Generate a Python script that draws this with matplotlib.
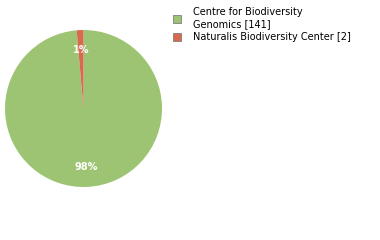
import matplotlib

matplotlib.use('Agg')
import matplotlib.pyplot as plt
from matplotlib.patches import Patch

labels = ['Centre for Biodiversity\nGenomics [141]', 'Naturalis Biodiversity Center [2]']
counts = [141, 2]
colors = ['#9dc473', '#d9694e']


def pct_label(p):
    # the reference truncates rather than rounds (141/143 -> 98%)
    return f'{int(p)}%'


fig = plt.figure(figsize=(3.8, 2.4), dpi=100)
ax = fig.add_axes([5 / 380, 1 - 187 / 240, 157 / 380, 157 / 240])

wedges, _, autotexts = ax.pie(
    counts,
    colors=colors,
    startangle=90,
    counterclock=False,
    autopct=pct_label,
    pctdistance=0.75,
    wedgeprops=dict(linewidth=0),
)
for t in autotexts:
    t.set_color('white')
    t.set_fontsize(7)
    t.set_fontweight('bold')
ax.set_xlim(-1, 1)
ax.set_ylim(-1, 1)
ax.set_aspect('equal')

handles = [Patch(facecolor=c, edgecolor='#808080', linewidth=0.6) for c in colors]
leg = fig.legend(
    handles,
    labels,
    loc='upper left',
    bbox_to_anchor=(164 / 380, 1 + 2 / 240),
    frameon=False,
    handlelength=0.85,
    handleheight=0.85,
    handletextpad=1.2,
    labelspacing=0.3,
    prop=dict(size=7),
)
for txt in leg.get_texts():
    txt.set_linespacing(1.35)

fig.savefig('out.png', dpi=100)
plt.close(fig)
